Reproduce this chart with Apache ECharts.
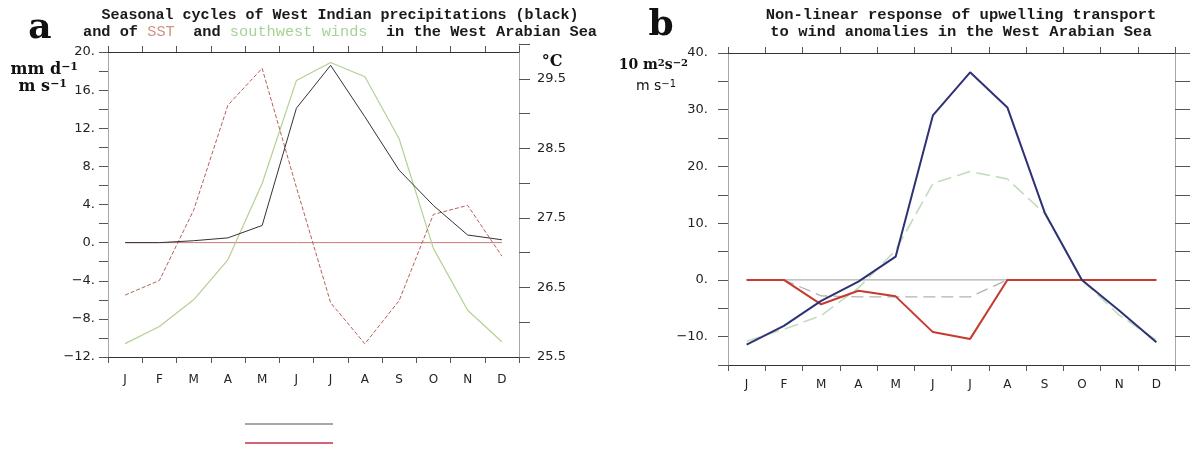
<!DOCTYPE html>
<html>
<head>
<meta charset="utf-8">
<title>Seasonal cycles - West Arabian Sea</title>
<script src="https://cdn.jsdelivr.net/npm/echarts@6.0.0/dist/echarts.min.js"></script>
<style>
  html, body { margin: 0; padding: 0; background: #fff; }
  #chart { width: 1193px; height: 453px; }
</style>
</head>
<body>
<div id="chart"></div>
<script>
// 月份
const months = ['J', 'F', 'M', 'A', 'M', 'J', 'J', 'A', 'S', 'O', 'N', 'D']

// panel a: precip (mm/d), SW winds (m/s) on left axis, SST (°C) on right axis
const precipA = [0.0, 0.0, 0.2, 0.5, 1.8, 14.1, 18.6, 13.2, 7.6, 3.9, 0.8, 0.3]
const windA = [-10.6, -8.8, -6.0, -1.8, 6.2, 17.0, 18.9, 17.4, 10.9, -0.6, -7.1, -10.4]
const sstA = [26.39, 26.6, 27.61, 29.12, 29.65, 27.94, 26.28, 25.69, 26.31, 27.55, 27.68, 26.95]
const zeroA = [0, 0, 0, 0, 0, 0, 0, 0, 0, 0, 0, 0]

// panel b: upwelling transport response
const upwellB = [-11.4, -8.1, -3.7, -0.3, 4.1, 29.0, 36.6, 30.4, 11.9, 0.0, -5.4, -11.0]
const windB = [-10.8, -8.7, -6.3, -1.4, 5.2, 17.0, 19.1, 17.8, 11.7, 0.0, -6.2, -10.6]
const nonlinB = [0, 0, -4.3, -1.9, -2.9, -9.2, -10.4, 0, 0, 0, 0, 0]
const grayB = [0, 0, -2.8, -3.0, -3.0, -3.0, -3.0, 0, 0, 0, 0, 0]
const zeroB = [0, 0, 0, 0, 0, 0, 0, 0, 0, 0, 0, 0]

const AXIS = '#333'
const VAXIS = '#a8a8a8' // vertical frame lines are light grey
const TICK = '#555'
const LABEL_FONT = 'DejaVu Sans'
const TITLE_FONT = 'Liberation Mono'
const SERIF = 'DejaVu Serif'

const minus = v => String(v).replace('-', '\u2212')

// shared category axis pieces
function monthAxis(gridIndex, extra) {
  return Object.assign({
    type: 'category',
    gridIndex: gridIndex,
    data: months,
    boundaryGap: true,
    axisLine: { onZero: false, lineStyle: { color: AXIS, width: 1 } },
    axisTick: { show: true, length: 6, lineStyle: { color: TICK } },
    splitLine: { show: false }
  }, extra)
}

// shared value axis pieces
function valueAxis(extra) {
  return Object.assign({
    type: 'value',
    axisLine: { show: true, onZero: false, lineStyle: { color: VAXIS } },
    splitLine: { show: false }
  }, extra)
}

let myChart = echarts.init(document.getElementById('chart'), null, { renderer: 'canvas' })
myChart.setOption({
  animation: false,
  backgroundColor: '#fff',
  grid: [
    // panel a, left axis
    { left: 108, right: 674, top: 52, bottom: 96, outerBoundsMode: 'none' },
    // panel a, SST axis (goes a bit higher than the frame)
    { left: 108, right: 674, top: 44, bottom: 96, outerBoundsMode: 'none' },
    // panel b
    { left: 728, right: 18, top: 53, bottom: 88, outerBoundsMode: 'none' }
  ],
  xAxis: [
    monthAxis(0, {
      position: 'bottom',
      axisLabel: { margin: 17, fontSize: 12, color: '#222', fontFamily: LABEL_FONT }
    }),
    monthAxis(0, { position: 'top', axisLabel: { show: false } }),
    monthAxis(1, { show: false }),
    monthAxis(2, {
      position: 'bottom',
      axisLabel: { margin: 14, fontSize: 12, color: '#222', fontFamily: LABEL_FONT }
    }),
    monthAxis(2, { position: 'top', axisLabel: { show: false } })
  ],
  yAxis: [
    valueAxis({
      gridIndex: 0, position: 'left',
      min: -12, max: 20, interval: 2,
      axisTick: { show: true, length: 9, lineStyle: { color: TICK } },
      axisLabel: {
        margin: 13, fontSize: 13, color: '#222', fontFamily: LABEL_FONT,
        formatter: v => (v % 4 === 0 ? minus(v) + '.' : '')
      }
    }),
    valueAxis({
      gridIndex: 1, position: 'right',
      min: 25.5, max: 30, interval: 0.5,
      axisTick: { show: true, length: 11, lineStyle: { color: TICK } },
      axisLabel: {
        margin: 18, fontSize: 13, color: '#222', fontFamily: LABEL_FONT,
        formatter: v => (Math.abs((v - 25.5) % 1) < 1e-6 ? v.toFixed(1) : '')
      }
    }),
    valueAxis({
      gridIndex: 2, position: 'left',
      min: -15, max: 40, interval: 5,
      axisTick: { show: true, length: 10, lineStyle: { color: TICK } },
      axisLabel: {
        margin: 20, fontSize: 13, color: '#222', fontFamily: LABEL_FONT,
        formatter: v => (v % 10 === 0 ? minus(v) + '.' : '')
      }
    }),
    valueAxis({
      gridIndex: 2, position: 'right',
      min: -15, max: 40, interval: 5,
      axisTick: { show: true, length: 15, lineStyle: { color: TICK } },
      axisLabel: { show: false }
    })
  ],
  series: [
    // ---- panel a ----
    {
      name: 'zero a', type: 'line', xAxisIndex: 0, yAxisIndex: 0, data: zeroA,
      symbol: 'none', lineStyle: { color: '#c77a72', width: 1 }
    },
    {
      name: 'southwest winds', type: 'line', xAxisIndex: 0, yAxisIndex: 0, data: windA,
      symbol: 'none', lineStyle: { color: '#b4d095', width: 1.2 }
    },
    {
      name: 'SST', type: 'line', xAxisIndex: 2, yAxisIndex: 1, data: sstA,
      symbol: 'none', lineStyle: { color: '#b0625a', width: 1, type: [4, 2] }
    },
    {
      name: 'precipitation', type: 'line', xAxisIndex: 0, yAxisIndex: 0, data: precipA,
      symbol: 'none', lineStyle: { color: '#333', width: 1 }
    },
    // ---- panel b ----
    {
      name: 'zero b', type: 'line', xAxisIndex: 3, yAxisIndex: 2, data: zeroB,
      symbol: 'none', lineStyle: { color: '#9a9a9a', width: 1 }
    },
    {
      name: 'linear', type: 'line', xAxisIndex: 3, yAxisIndex: 2, data: grayB,
      symbol: 'none', lineStyle: { color: '#b2b2b2', width: 1.3, type: [12, 6] }
    },
    {
      name: 'wind b', type: 'line', xAxisIndex: 3, yAxisIndex: 2, data: windB,
      symbol: 'none', lineStyle: { color: '#c3dcbd', width: 1.6, type: [14, 6] }
    },
    {
      name: 'non-linear', type: 'line', xAxisIndex: 3, yAxisIndex: 2, data: nonlinB,
      symbol: 'none', lineStyle: { color: '#c63a2f', width: 2 }
    },
    {
      name: 'upwelling', type: 'line', xAxisIndex: 3, yAxisIndex: 2, data: upwellB,
      symbol: 'none', lineStyle: { color: '#2e3275', width: 2 }
    }
  ],
  graphic: [
    // panel letters
    { type: 'text', x: 40, y: 29, style: { text: 'a', font: 'bold 36px "' + SERIF + '"', fill: '#111', align: 'center', verticalAlign: 'middle' } },
    { type: 'text', x: 661, y: 26, style: { text: 'b', font: 'bold 36px "' + SERIF + '"', fill: '#111', align: 'center', verticalAlign: 'middle' } },
    // panel a title
    { type: 'text', x: 340, y: 15, style: { text: 'Seasonal cycles of West Indian precipitations (black)', font: 'bold 15px "' + TITLE_FONT + '"', fill: '#1a1a1a', align: 'center', verticalAlign: 'middle' } },
    {
      type: 'text', x: 340, y: 32,
      style: {
        text: '{b|and of }{r|SST}{b|  and }{g|southwest winds}{b|  in the West Arabian Sea}',
        align: 'center', verticalAlign: 'middle',
        rich: {
          b: { font: 'bold 15.3px "' + TITLE_FONT + '"', fill: '#1a1a1a' },
          r: { font: '15.3px "' + TITLE_FONT + '"', fill: '#cf9484' },
          g: { font: '15.3px "' + TITLE_FONT + '"', fill: '#a6d395' }
        }
      }
    },
    // panel b title
    { type: 'text', x: 961, y: 15, style: { text: 'Non-linear response of upwelling transport', font: 'bold 15.5px "' + TITLE_FONT + '"', fill: '#1a1a1a', align: 'center', verticalAlign: 'middle' } },
    { type: 'text', x: 961, y: 32, style: { text: 'to wind anomalies in the West Arabian Sea', font: 'bold 15.5px "' + TITLE_FONT + '"', fill: '#1a1a1a', align: 'center', verticalAlign: 'middle' } },
    // units panel a
    {
      type: 'text', x: 78, y: 70,
      style: {
        text: '{b|mm d}{s|\u22121}', align: 'right', verticalAlign: 'middle',
        rich: { b: { font: 'bold 16px "' + SERIF + '"', fill: '#111' }, s: { font: 'bold 11px "' + SERIF + '"', fill: '#111', verticalAlign: 'top' } }
      }
    },
    {
      type: 'text', x: 67, y: 87,
      style: {
        text: '{b|m s}{s|\u22121}', align: 'right', verticalAlign: 'middle',
        rich: { b: { font: 'bold 16px "' + SERIF + '"', fill: '#111' }, s: { font: 'bold 11px "' + SERIF + '"', fill: '#111', verticalAlign: 'top' } }
      }
    },
    { type: 'text', x: 552, y: 62, style: { text: '\u00B0C', font: 'bold 16px "' + SERIF + '"', fill: '#111', align: 'center', verticalAlign: 'middle' } },
    // units panel b
    {
      type: 'text', x: 688, y: 65,
      style: {
        text: '{b|10 m}{s|2}{b|s}{s|\u22122}', align: 'right', verticalAlign: 'middle',
        rich: { b: { font: 'bold 14px "' + SERIF + '"', fill: '#111' }, s: { font: 'bold 10px "' + SERIF + '"', fill: '#111', verticalAlign: 'top' } }
      }
    },
    {
      type: 'text', x: 676, y: 86,
      style: {
        text: '{b|m s}{s|\u22121}', align: 'right', verticalAlign: 'middle',
        rich: { b: { font: '14px "' + LABEL_FONT + '"', fill: '#111' }, s: { font: '10px "' + LABEL_FONT + '"', fill: '#111', verticalAlign: 'top' } }
      }
    },
    // legend lines without text under panel a
    { type: 'line', shape: { x1: 245, y1: 424, x2: 333, y2: 424 }, style: { stroke: '#8a8a8a', lineWidth: 1.5 } },
    { type: 'line', shape: { x1: 245, y1: 443, x2: 333, y2: 443 }, style: { stroke: '#c3304a', lineWidth: 1.5 } }
  ]
})

window.onresize = function () {
  myChart.resize()
}
</script>
</body>
</html>
